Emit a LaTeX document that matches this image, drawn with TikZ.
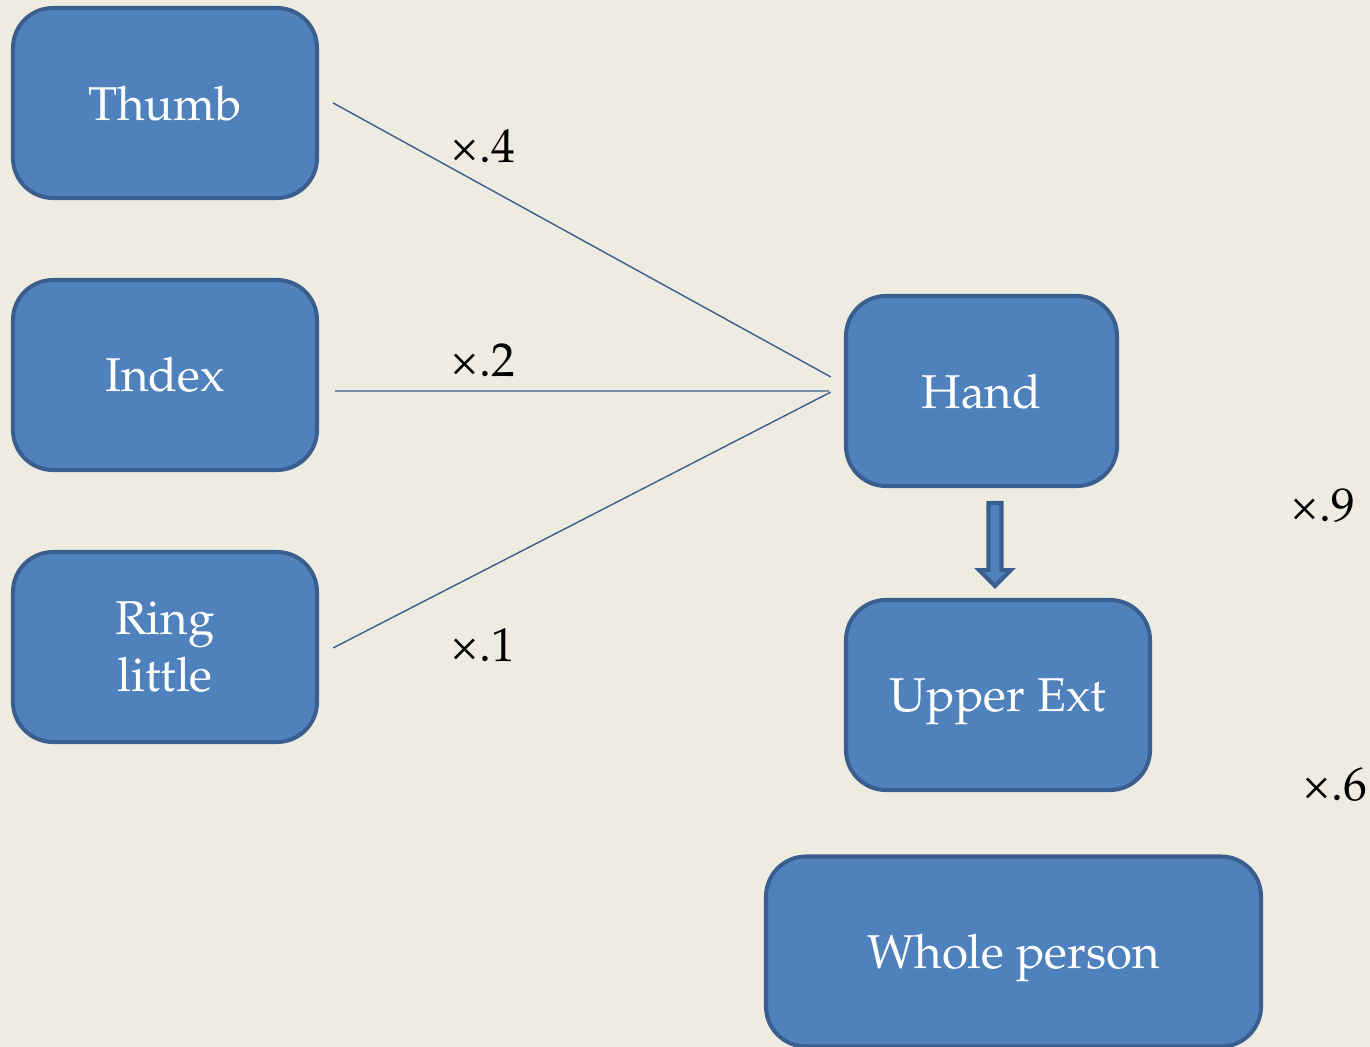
\documentclass[tikz,border=0pt]{standalone}
\usepackage[T1]{fontenc}
\usepackage{mathpazo}
\usepackage{textcomp}
\usetikzlibrary{positioning, calc}
\definecolor{paper}{HTML}{EEEBE0}
\definecolor{boxfill}{HTML}{4F81BD}
\definecolor{boxline}{HTML}{3A5F8E}
\tikzstyle{part} = [rectangle, rounded corners=0.8cm, minimum width=6.08cm, minimum height=3.80cm, align=center, draw=boxline, line width=2.3pt, fill=boxfill, text=white, font=\fontsize{27}{32}\selectfont]
\tikzstyle{link} = [draw=boxline, line width=0.8pt, shorten <=0.32cm, shorten >=0.3cm]
\tikzstyle{factor} = [font=\fontsize{27}{32}\selectfont, text=black]
\tikzstyle{blkarrow} = [draw=boxline, line width=2.3pt, fill=boxfill, line join=miter]

\begin{document}
\begin{tikzpicture}[node distance=5.44cm]
\fill[paper] (0,0) rectangle (27.4,-20.94);
\useasboundingbox (0,0) rectangle (27.4,-20.94);

\node (thumb) [part] at (3.30,-2.06) {Thumb};
\node (index) [part, below of=thumb] {Index};
\node (ring) [part, below of=index] {Ring\\little};
\node (hand) [part, minimum width=5.42cm] at (19.63,-7.82) {Hand};
\node (upper) [part, text depth=0pt] at (19.96,-13.90) {Upper Ext};
\node (whole) [part, text depth=0pt, minimum width=9.90cm] at (20.27,-19.03) {Whole person};

\draw [link] ([yshift=0.156cm]thumb.east) -- ([yshift=0.136cm]hand.west);
\draw [link] ([yshift=-0.32cm]index.east) -- (hand.west);
\draw [link] ([yshift=-0.164cm]ring.east) -- ([yshift=0.114cm]hand.west);
\draw [blkarrow] ([shift={(0.14,-0.3)}]hand.south) -- ++(0.26,0) -- ++(0,-1.34) -- ++(0.19,0) -- ++(-0.32,-0.32) -- ++(-0.32,0.32) -- ++(0.19,0) -- cycle;

\node (f4) [factor] at (9.66,-2.92) {\texttimes.4};
\node (f2) [factor] at (9.66,-7.20) {\texttimes.2};
\node (f1) [factor] at (9.66,-12.90) {\texttimes.1};
\node (f9) [factor] at (26.46,-10.12) {\texttimes.9};
\node (f6) [factor] at (26.70,-15.70) {\texttimes.6};

\end{tikzpicture}
\end{document}
